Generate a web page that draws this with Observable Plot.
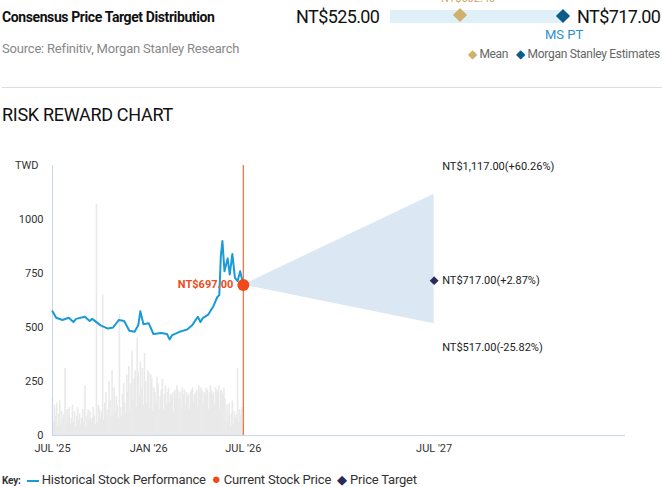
<!DOCTYPE html>
<html><head><meta charset="utf-8">
<script src="https://cdn.jsdelivr.net/npm/d3@7"></script>
<script src="https://cdn.jsdelivr.net/npm/@observablehq/plot@0.6"></script>
<style>
body{margin:0;width:662px;height:487px;position:relative;font-family:Roboto,sans-serif;background:#fff;overflow:hidden}
.a{position:absolute;white-space:nowrap}
#chart{position:absolute;left:0;top:150px}
</style></head><body>
<div class="a" style="left:2px;top:9px;font-size:14px;font-weight:bold;color:#111;letter-spacing:-0.4px">Consensus Price Target Distribution</div>
<div class="a" style="left:2px;top:41px;font-size:13px;color:#888;letter-spacing:-0.2px">Source: Refinitiv, Morgan Stanley Research</div>
<div class="a" style="left:296px;top:6px;font-size:18px;color:#111;letter-spacing:-0.6px">NT$525.00</div>
<div class="a" style="left:390px;top:10px;width:173px;height:13px;background:#dff0f9"></div>
<div class="a" style="left:441px;top:-8px;font-size:11px;color:#c9a96a">NT$602.40</div>
<div class="a" style="left:455px;top:10px;width:10px;height:10px;background:#cfb06e;transform:rotate(45deg)"></div>
<div class="a" style="left:558px;top:11px;width:10px;height:10px;background:#0b5c8a;transform:rotate(45deg)"></div>
<div class="a" style="left:577px;top:6px;font-size:18px;color:#111;letter-spacing:-0.6px">NT$717.00</div>
<div class="a" style="left:545px;top:27px;font-size:13px;color:#2a8fd0">MS PT</div>
<div class="a" style="right:2px;top:47px;font-size:12px;color:#666;letter-spacing:-0.3px"><span style="color:#cfb06e">◆</span> Mean &nbsp; <span style="color:#0b5c8a">◆</span> Morgan Stanley Estimates</div>
<div class="a" style="left:2px;top:87px;width:660px;height:1px;background:#ddd"></div>
<div class="a" style="left:2px;top:104px;font-size:18px;color:#111;letter-spacing:-0.3px">RISK REWARD CHART</div>
<div id="chart"></div>
<div class="a" style="left:2px;top:470px;font-size:13px;color:#333;letter-spacing:-0.2px"><b style="font-size:10px">Key:</b>&nbsp;
<span style="display:inline-block;width:12px;height:2px;background:#1a9ad6;vertical-align:middle"></span> Historical Stock Performance&nbsp;
<span style="color:#f04a1a;font-size:15px">●</span> Current Stock Price&nbsp;
<span style="color:#2a2a5a">◆</span> Price Target</div>
<script>
const priceDates = ["2025-07-01","2025-07-08","2025-07-20","2025-08-01","2025-08-10","2025-08-15","2025-09-01","2025-09-10","2025-09-15","2025-10-01","2025-10-15","2025-10-25","2025-11-05","2025-11-15","2025-11-25","2025-12-05","2025-12-12","2025-12-16","2025-12-22","2026-01-01","2026-01-10","2026-01-25","2026-02-05","2026-02-10","2026-02-15","2026-03-01","2026-03-15","2026-03-25","2026-04-05","2026-04-10","2026-04-15","2026-04-25","2026-05-05","2026-05-12","2026-05-16","2026-05-19","2026-05-22","2026-05-26","2026-06-01","2026-06-05","2026-06-10","2026-06-15","2026-06-20","2026-06-25","2026-07-01"];
const priceVals = [575,545,535,545,525,540,550,530,540,510,495,500,535,530,485,480,510,575,515,520,470,475,470,445,465,480,490,510,550,525,545,560,600,640,650,830,900,760,820,745,840,730,715,760,697];
const volDates = d3.timeDay.range(new Date("2025-07-01"), new Date("2026-07-01"), 2);
const volVals = [170,60,140,90,150,40,100,160,50,110,80,95,310,60,120,90,130,50,80,140,60,110,40,90,130,70,100,50,80,120,60,230,40,90,120,70,110,60,80,130,90,50,1070,60,140,120,80,110,650,70,150,200,90,120,250,160,90,300,90,220,110,180,140,80,560,130,90,190,240,150,100,280,200,320,110,240,390,160,260,300,130,450,290,180,340,220,310,140,380,250,150,300,290,120,280,260,110,220,200,150,270,240,120,180,210,260,120,190,230,140,200,220,150,190,180,200,110,210,190,230,210,170,200,130,220,190,210,140,200,180,190,120,200,210,220,150,190,200,210,130,230,200,220,210,140,200,190,220,210,120,200,230,210,190,200,140,220,210,200,230,120,210,200,190,220];
const currentDate = "2026-07-01", currentPrice = 697;
const targetDate = "2027-07-01";
const targets = [1117, 717, 517];
const targetLabels = ["NT$1,117.00(+60.26%)","NT$717.00(+2.87%)","NT$517.00(-25.82%)"];
const xTicks = ["2025-07-01","2026-01-01","2026-07-01","2027-07-01"];
const xTickLabels = ["JUL '25","JAN '26","JUL '26","JUL '27"];
const yTicks = [0,250,500,750,1000];

const P = priceDates.map((d,i)=>({d:new Date(d),v:priceVals[i]}));
const V = volDates.map((d,i)=>({d,v:volVals[i % volVals.length]}));
const cone = [{d:new Date(currentDate),lo:currentPrice,hi:currentPrice},{d:new Date(targetDate),lo:targets[2],hi:targets[0]}];
const tl = targets.map((t,i)=>({d:new Date(targetDate),v:t,l:targetLabels[i]}));
const fmt = new Map(xTicks.map((t,i)=>[+new Date(t),xTickLabels[i]]));
const chart = Plot.plot({
  width:662,height:310,marginLeft:52,marginRight:37,marginTop:15,marginBottom:25,
  style:{fontFamily:"Roboto",fontSize:"11px",color:"#333"},
  x:{type:"time",domain:[new Date("2025-07-01"),new Date("2028-07-01")],ticks:xTicks.map(t=>new Date(t)),tickFormat:d=>fmt.get(+d),tickSize:0,label:null},
  y:{domain:[0,1250],ticks:yTicks,tickFormat:d3.format("d"),tickSize:0,label:null},
  marks:[
    Plot.ruleX(V,{x:"d",y1:0,y2:"v",stroke:"#e9e9e9",strokeWidth:1.6}),
    Plot.ruleY([0],{stroke:"#c8d8ec"}),
    Plot.ruleX([new Date("2025-07-01")],{stroke:"#c8d8ec",y1:0,y2:1250}),
    Plot.ruleX([new Date(currentDate)],{stroke:"#f26a3a",y1:0,y2:1250,strokeWidth:1.2}),
    Plot.areaY(cone,{x:"d",y1:"lo",y2:"hi",fill:"#dbe7f2"}),
    Plot.line(P,{x:"d",y:"v",stroke:"#1a9ad6",strokeWidth:2}),
    Plot.dot([{d:new Date(currentDate),v:currentPrice}],{x:"d",y:"v",r:6,fill:"#f04a1a"}),
    Plot.text([{d:new Date(currentDate),v:currentPrice}],{x:"d",y:"v",text:d=>"NT$697.00",dx:-10,textAnchor:"end",fill:"#f04a1a",fontWeight:"bold",fontSize:11}),
    Plot.dot([tl[1]],{x:"d",y:"v",symbol:"diamond2",r:4,fill:"#2a2a5a"}),
    Plot.text(tl,{x:"d",y:(d,i)=>[1245,717,407][i],text:"l",dx:8,textAnchor:"start",fill:"#222",fontSize:11}),
    Plot.text(["TWD"],{x:new Date("2025-07-01"),y:1250,dx:-14,textAnchor:"end",fill:"#333",fontSize:11})
  ]
});
document.getElementById("chart").appendChild(chart);
</script></body></html>
